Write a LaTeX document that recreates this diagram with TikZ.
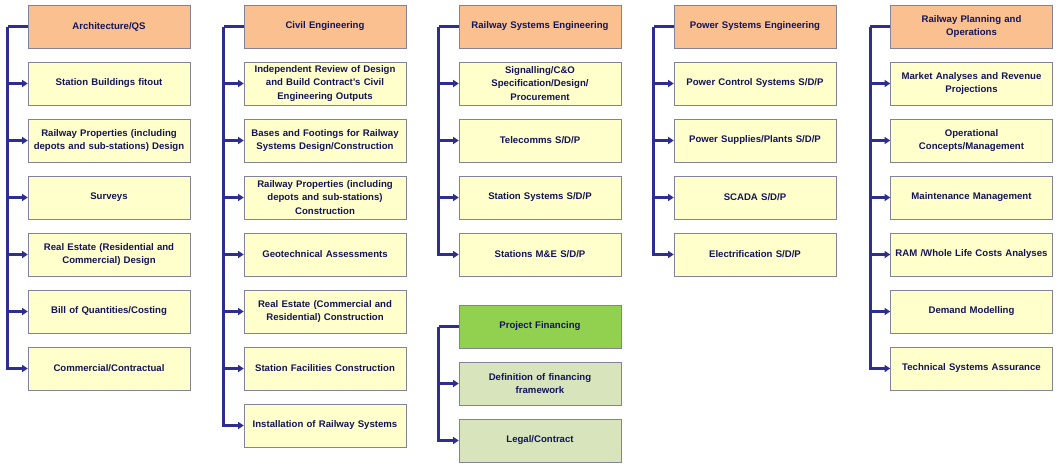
\documentclass[tikz,border=0pt]{standalone}
\usepackage{fontspec}
\setmainfont{Liberation Sans}
\usepackage{xcolor}
\usetikzlibrary{positioning}
\usetikzlibrary{calc}
\usetikzlibrary{arrows.meta}
\definecolor{headcol}{RGB}{250, 192, 144}
\definecolor{itemcol}{RGB}{255, 255, 204}
\definecolor{finhead}{RGB}{146, 208, 80}
\definecolor{finitem}{RGB}{216, 228, 188}
\definecolor{linkcol}{RGB}{46, 46, 145}
\definecolor{textcol}{RGB}{20, 20, 90}
\definecolor{edgecol}{RGB}{130, 130, 155}
\tikzstyle{box} = [
	draw=edgecol,
	line width=0.6pt,
	minimum width=162pt,
	minimum height=43pt,
	text width=158pt,
	inner sep=1.5pt,
	align=center,
	text=textcol,
	font=\bfseries\fontsize{9.6}{13.3}\selectfont
]
\tikzstyle{headbox} = [box, fill=headcol]
\tikzstyle{itembox} = [box, fill=itemcol]
\tikzstyle{fhbox} = [box, fill=finhead]
\tikzstyle{fibox} = [box, fill=finitem]
\tikzstyle{spine} = [
	draw=linkcol,
	line width=2.8pt,
	line join=miter
]
\tikzstyle{link} = [
	spine,
	-{Triangle[length=5.5pt,width=7pt]}
]

\begin{document}
\begin{tikzpicture}[x=1pt,y=-1pt,node distance=13.4pt and 0pt]
	\useasboundingbox (0,0) rectangle (1061,467);
	
	% Architecture/QS
	\node[headbox] (A0) at (109,26.5) {Architecture/QS};
	\node[itembox, below=of A0] (A1) {Station Buildings fitout};
	\node[itembox, below=of A1] (A2) {Railway Properties (including\\depots and sub-stations) Design};
	\node[itembox, below=of A2] (A3) {Surveys};
	\node[itembox, below=of A3] (A4) {Real Estate (Residential and\\Commercial) Design};
	\node[itembox, below=of A4] (A5) {Bill of Quantities/Costing};
	\node[itembox, below=of A5] (A6) {Commercial/Contractual};
	\coordinate (As) at ($(A0.west)+(-20,0)$);
	\draw[spine] (A0.west) -- (As);
	\draw[link] (As) |- (A6.west);
	\foreach \n in {A1,A2,A3,A4,A5}
		\draw[link] (As |- \n.west) -- (\n.west);
	
	% Civil Engineering
	\node[headbox] (C0) at (325,26.5) {Civil Engineering};
	\node[itembox, below=of C0] (C1) {Independent Review of Design\\and Build Contract's Civil\\Engineering Outputs};
	\node[itembox, below=of C1] (C2) {Bases and Footings for Railway\\Systems Design/Construction};
	\node[itembox, below=of C2] (C3) {Railway Properties (including\\depots and sub-stations)\\Construction};
	\node[itembox, below=of C3] (C4) {Geotechnical Assessments};
	\node[itembox, below=of C4] (C5) {Real Estate (Commercial and\\Residential) Construction};
	\node[itembox, below=of C5] (C6) {Station Facilities Construction};
	\node[itembox, below=of C6] (C7) {Installation of Railway Systems};
	\coordinate (Cs) at ($(C0.west)+(-20,0)$);
	\draw[spine] (C0.west) -- (Cs);
	\draw[link] (Cs) |- (C7.west);
	\foreach \n in {C1,C2,C3,C4,C5,C6}
		\draw[link] (Cs |- \n.west) -- (\n.west);
	
	% Railway Systems Engineering
	\node[headbox] (R0) at (540,26.5) {Railway Systems Engineering};
	\node[itembox, below=of R0] (R1) {Signalling/C\&O\\Specification/Design/\\Procurement};
	\node[itembox, below=of R1] (R2) {Telecomms S/D/P};
	\node[itembox, below=of R2] (R3) {Station Systems S/D/P};
	\node[itembox, below=of R3] (R4) {Stations M\&E S/D/P};
	\coordinate (Rs) at ($(R0.west)+(-20,0)$);
	\draw[spine] (R0.west) -- (Rs);
	\draw[link] (Rs) |- (R4.west);
	\foreach \n in {R1,R2,R3}
		\draw[link] (Rs |- \n.west) -- (\n.west);
	
	% Project Financing
	\node[fhbox] (F0) at (540,326.5) {Project Financing};
	\node[fibox, below=of F0] (F1) {Definition of financing\\framework};
	\node[fibox, below=of F1] (F2) {Legal/Contract};
	\coordinate (Fs) at ($(F0.west)+(-20,0)$);
	\draw[spine] (F0.west) -- (Fs);
	\draw[link] (Fs) |- (F2.west);
	\draw[link] (Fs |- F1.west) -- (F1.west);
	
	% Power Systems Engineering
	\node[headbox] (P0) at (755,26.5) {Power Systems Engineering};
	\node[itembox, below=of P0] (P1) {Power Control Systems S/D/P};
	\node[itembox, below=of P1] (P2) {Power Supplies/Plants S/D/P};
	\node[itembox, below=of P2] (P3) {SCADA S/D/P};
	\node[itembox, below=of P3] (P4) {Electrification S/D/P};
	\coordinate (Ps) at ($(P0.west)+(-20,0)$);
	\draw[spine] (P0.west) -- (Ps);
	\draw[link] (Ps) |- (P4.west);
	\foreach \n in {P1,P2,P3}
		\draw[link] (Ps |- \n.west) -- (\n.west);
	
	% Railway Planning and Operations
	\node[headbox] (O0) at (971.5,26.5) {Railway Planning and\\Operations};
	\node[itembox, below=of O0] (O1) {Market Analyses and Revenue\\Projections};
	\node[itembox, below=of O1] (O2) {Operational\\Concepts/Management};
	\node[itembox, below=of O2] (O3) {Maintenance Management};
	\node[itembox, below=of O3] (O4) {RAM /Whole Life Costs Analyses};
	\node[itembox, below=of O4] (O5) {Demand Modelling};
	\node[itembox, below=of O5] (O6) {Technical Systems Assurance};
	\coordinate (Os) at ($(O0.west)+(-20,0)$);
	\draw[spine] (O0.west) -- (Os);
	\draw[link] (Os) |- (O6.west);
	\foreach \n in {O1,O2,O3,O4,O5}
		\draw[link] (Os |- \n.west) -- (\n.west);
	
\end{tikzpicture}
\end{document}
